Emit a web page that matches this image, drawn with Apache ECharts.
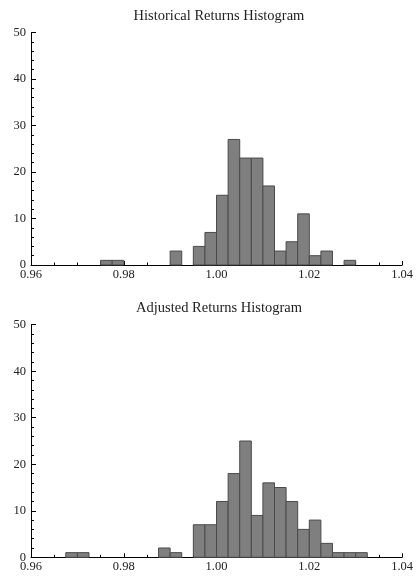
<!DOCTYPE html>
<html>
<head>
<meta charset="utf-8">
<script src="https://cdn.jsdelivr.net/npm/echarts@6/dist/echarts.min.js"></script>
<style>
  html, body { margin: 0; padding: 0; background: #fff; }
  #chart { width: 416px; height: 579px; }
</style>
</head>
<body>
<div id="chart"></div>
<script>
// Bin width of both histograms
const binWidth = 0.0025;

// Historical returns: lower bin edges and counts
const histBinLow = [0.975, 0.9775, 0.99, 0.995, 0.9975, 1.0, 1.0025, 1.005, 1.0075, 1.01, 1.0125, 1.015, 1.0175, 1.02, 1.0225, 1.0275];
const histCounts = [1, 1, 3, 4, 7, 15, 27, 23, 23, 17, 3, 5, 11, 2, 3, 1];

// Adjusted returns: lower bin edges and counts
const adjBinLow = [0.9675, 0.97, 0.9875, 0.99, 0.995, 0.9975, 1.0, 1.0025, 1.005, 1.0075, 1.01, 1.0125, 1.015, 1.0175, 1.02, 1.0225, 1.025, 1.0275, 1.03];
const adjCounts = [1, 1, 2, 1, 7, 7, 12, 18, 25, 9, 16, 15, 12, 6, 8, 3, 1, 1, 1];

// Axis ticks
const xTicks = [0.96, 0.98, 1.00, 1.02, 1.04];
const yTicks = [0, 10, 20, 30, 40, 50];

const titles = ['Historical Returns Histogram', 'Adjusted Returns Histogram'];

const serif = '"Liberation Serif", "DejaVu Serif", serif';
const plotLeft = 31, plotRight = 407;
const grids = [
  { left: plotLeft, right: 416 - plotRight, top: 32.5, height: 232.5 },
  { left: plotLeft, right: 416 - plotRight, top: 324.7, height: 232.6 }
];

function toData(lows, counts) {
  return lows.map((lo, i) => [lo, lo + binWidth, counts[i]]);
}

function renderBin(params, api) {
  const p0 = api.coord([api.value(0), api.value(2)]);
  const p1 = api.coord([api.value(1), 0]);
  return {
    type: 'rect',
    shape: { x: p0[0], y: p0[1], width: p1[0] - p0[0], height: p1[1] - p0[1] },
    style: { fill: '#7f7f7f', stroke: '#4a4a4a', lineWidth: 1 }
  };
}

function xAxisFor(i) {
  return {
    gridIndex: i, type: 'value',
    min: xTicks[0], max: xTicks[xTicks.length - 1], interval: 0.02,
    axisLine: { show: true, onZero: false, lineStyle: { color: '#000', width: 1 } },
    axisTick: { show: true, inside: true, length: 4, lineStyle: { color: '#000' } },
    minorTick: { show: true, splitNumber: 4, length: 2.5, lineStyle: { color: '#000' } },
    splitLine: { show: false },
    axisLabel: {
      margin: 3, color: '#222', fontFamily: serif, fontSize: 12.5,
      showMaxLabel: true, showMinLabel: true,
      formatter: v => v.toFixed(2)
    }
  };
}

function yAxisFor(i) {
  return {
    gridIndex: i, type: 'value',
    min: yTicks[0], max: yTicks[yTicks.length - 1], interval: 10,
    axisLine: { show: true, lineStyle: { color: '#000', width: 1 } },
    axisTick: { show: true, inside: true, length: 5, lineStyle: { color: '#000' } },
    minorTick: { show: true, splitNumber: 5, length: 3, lineStyle: { color: '#000' } },
    splitLine: { show: false },
    axisLabel: { margin: 5, color: '#222', fontFamily: serif, fontSize: 12.5 }
  };
}

const chart = echarts.init(document.getElementById('chart'), null, { renderer: 'canvas' });
chart.setOption({
  animation: false,
  backgroundColor: '#fff',
  grid: grids,
  xAxis: [xAxisFor(0), xAxisFor(1)],
  yAxis: [yAxisFor(0), yAxisFor(1)],
  graphic: titles.map((t, i) => ({
    type: 'text',
    x: (plotLeft + plotRight) / 2,
    y: i === 0 ? 16 : 308,
    style: {
      text: t, fontFamily: serif, fontSize: 14.5, fill: '#222',
      align: 'center', verticalAlign: 'middle'
    }
  })),
  series: [
    { type: 'custom', xAxisIndex: 0, yAxisIndex: 0, renderItem: renderBin,
      data: toData(histBinLow, histCounts), encode: { x: [0, 1], y: 2 } },
    { type: 'custom', xAxisIndex: 1, yAxisIndex: 1, renderItem: renderBin,
      data: toData(adjBinLow, adjCounts), encode: { x: [0, 1], y: 2 } }
  ]
});
</script>
</body>
</html>
